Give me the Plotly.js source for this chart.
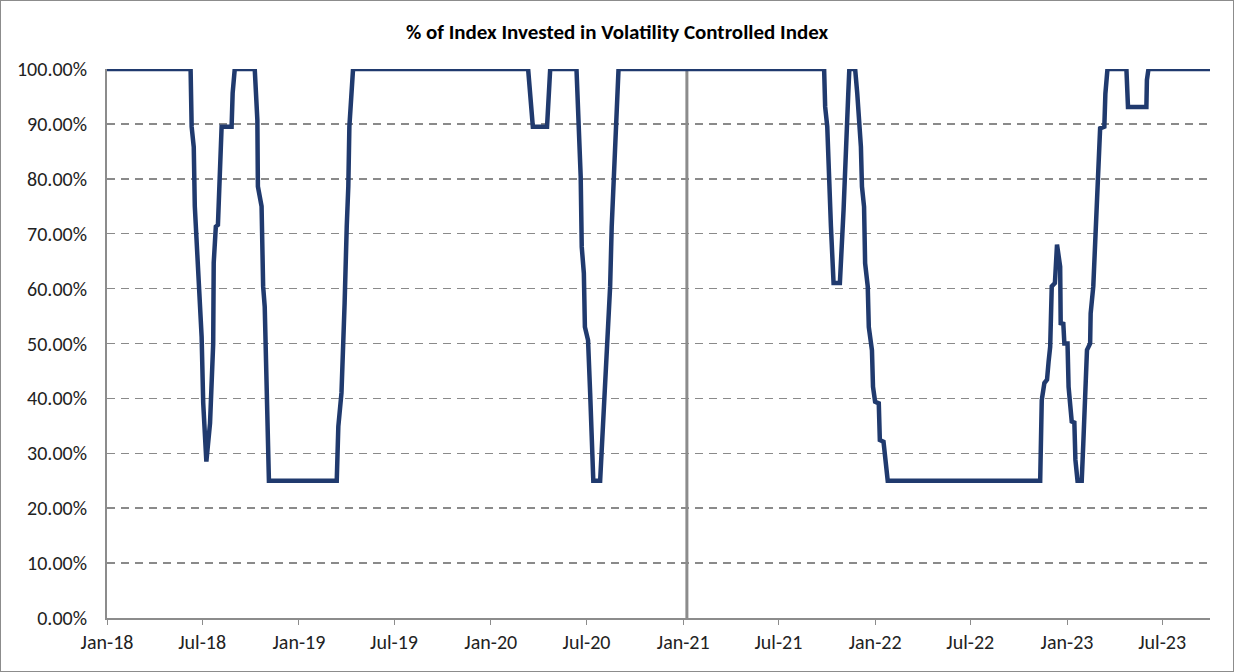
<!DOCTYPE html>
<html>
<head>
<meta charset="utf-8">
<script src="https://cdn.plot.ly/plotly-3.0.1.min.js"></script>
<style>
  html, body { margin: 0; padding: 0; background: #fff; }
  #plot { width: 1234px; height: 672px; box-sizing: border-box; border: 1px solid #8c8c8c; }
</style>
</head>
<body>
<div id="plot"></div>
<script>
// dates and % invested
const dates = [
  '2018-01-01', '2018-06-09', '2018-06-11', '2018-06-15', '2018-06-17', '2018-06-23', '2018-06-30',
  '2018-07-03', '2018-07-09', '2018-07-16', '2018-07-22', '2018-07-23', '2018-07-27', '2018-07-31',
  '2018-08-04', '2018-08-07', '2018-08-26', '2018-08-28', '2018-09-01', '2018-10-09', '2018-10-14',
  '2018-10-15', '2018-10-22', '2018-10-25', '2018-10-28', '2018-10-31', '2018-11-05',
  '2019-03-14', '2019-03-17', '2019-03-23', '2019-03-26', '2019-03-29', '2019-04-02', '2019-04-05',
  '2019-04-07', '2019-04-11', '2019-04-14',
  '2020-03-12', '2020-03-15', '2020-03-21', '2020-04-17', '2020-04-21', '2020-04-23',
  '2020-06-12', '2020-06-15', '2020-06-20', '2020-06-22', '2020-06-26', '2020-06-28', '2020-07-04',
  '2020-07-08', '2020-07-14', '2020-07-27', '2020-08-01', '2020-08-05', '2020-08-11', '2020-08-15',
  '2020-08-18', '2020-08-23', '2020-08-26', '2020-08-29', '2020-08-31',
  '2021-09-26', '2021-09-28', '2021-10-02', '2021-10-04', '2021-10-09', '2021-10-14', '2021-10-26',
  '2021-11-02', '2021-11-07', '2021-11-11', '2021-11-13', '2021-11-24', '2021-11-28', '2021-12-02',
  '2021-12-05', '2021-12-07', '2021-12-11', '2021-12-13', '2021-12-18', '2021-12-20', '2021-12-26',
  '2021-12-28', '2022-01-01', '2022-01-08', '2022-01-10', '2022-01-17', '2022-01-22', '2022-01-25',
  '2022-11-11', '2022-11-14', '2022-11-19', '2022-11-24', '2022-11-27', '2022-11-30', '2022-12-03',
  '2022-12-09', '2022-12-13', '2022-12-19', '2022-12-20', '2022-12-25', '2022-12-27',
  '2023-01-02', '2023-01-04', '2023-01-10', '2023-01-15', '2023-01-17', '2023-01-21', '2023-01-29',
  '2023-02-01', '2023-02-05', '2023-02-08', '2023-02-14', '2023-02-15', '2023-02-20', '2023-02-24',
  '2023-02-28', '2023-03-04', '2023-03-05', '2023-03-13', '2023-03-15', '2023-03-19', '2023-04-24',
  '2023-04-27', '2023-06-01', '2023-06-02', '2023-06-05', '2023-09-30'
];
const invested = [
  100, 100, 89.5, 85.8, 75, 62.8, 51.2,
  39.2, 28.5, 35.5, 50, 64.7, 71.3, 71.6,
  81.6, 89.5, 89.5, 95.6, 100, 100, 90.7,
  78.6, 75, 60.4, 56.7, 41, 25,
  25, 34.9, 41, 53, 57.4, 71.3, 78.6,
  89.5, 94.4, 100,
  100, 95.6, 89.5, 89.5, 95, 100,
  100, 92.5, 80.4, 67.6, 62.8, 53, 50.6,
  41, 25, 25, 34.9, 43.9, 55.5, 60.4,
  71.3, 83.4, 92.5, 96.8, 100,
  100, 93.1, 89.5, 82.2, 71.3, 61, 61,
  74.3, 89.5, 95.6, 100, 100, 95.6, 89.5,
  85.8, 78.6, 74.9, 64.6, 60.4, 53, 48.8,
  42.1, 39.4, 39.1, 32.4, 32.1, 27, 25,
  25, 39.7, 42.8, 43.4, 46.7, 49.4, 60.4,
  61, 68, 64, 53.7, 53.6, 50,
  50, 42.1, 35.8, 35.6, 28.8, 25, 25,
  31.8, 41, 48.8, 50, 55.5, 60.4, 69.3,
  82.2, 88.3, 89.2, 89.5, 95.5, 100, 100,
  93.1, 93.1, 98, 100, 100
];
const markerDate = '2021-01-08';

const font = "Calibri, Carlito, 'Open Sans', sans-serif";

let trace = {
    x: dates,
    y: invested.map(v => v / 100),
    type: 'scatter',
    mode: 'lines',
    line: { color: '#203a6e', width: 4.5 },
    hoverinfo: 'x+y'
};

let layout = {
    width: 1232,
    height: 670,
    showlegend: false,
    paper_bgcolor: '#ffffff',
    plot_bgcolor: '#ffffff',
    margin: { l: 106, r: 23, t: 68, b: 53 },
    title: {
        text: '<b>% of Index Invested in Volatility Controlled Index</b>',
        font: { family: font, size: 21, color: '#000' },
        x: 0.5, xanchor: 'center',
        y: 0.955, yanchor: 'middle'
    },
    xaxis: {
        type: 'date',
        range: ['2018-01-01', '2023-09-30'],
        tick0: '2018-01-01',
        dtick: 'M6',
        tickformat: '%b-%y',
        ticks: 'outside',
        ticklen: 5,
        tickwidth: 1,
        tickcolor: '#8c8c8c',
        showgrid: false,
        showline: true,
        linecolor: '#8c8c8c',
        linewidth: 2,
        tickfont: { family: font, size: 20, color: '#222' }
    },
    yaxis: {
        range: [0, 1],
        dtick: 0.1,
        tickformat: '.2%',
        showgrid: true,
        gridcolor: '#8a8a8a',
        gridwidth: 1.5,
        griddash: '8px,6px',
        zeroline: false,
        showline: true,
        linecolor: '#8c8c8c',
        linewidth: 2,
        ticks: '',
        ticklabelstandoff: 14,
        tickfont: { family: font, size: 20, color: '#222' }
    },
    shapes: [{
        type: 'line',
        xref: 'x', yref: 'paper',
        x0: markerDate, x1: markerDate, y0: 0, y1: 1,
        line: { color: '#8c8c8c', width: 3 },
        layer: 'below'
    }]
};

Plotly.newPlot(document.getElementById('plot'), [trace], layout, { displayModeBar: false, staticPlot: true });
</script>
</body>
</html>
